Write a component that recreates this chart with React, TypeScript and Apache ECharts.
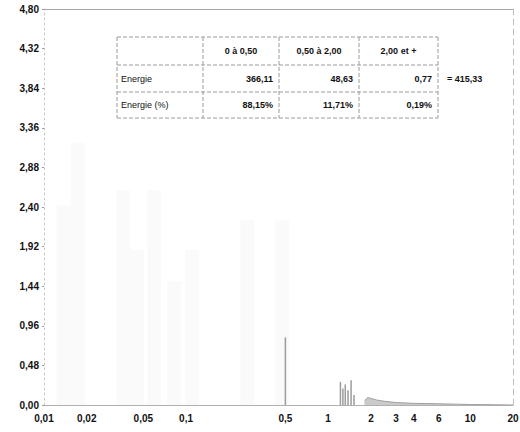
import React, { useEffect, useRef } from "react";
import * as echarts from "echarts";

// ---- data ----
const xTickValues = [0.01, 0.02, 0.05, 0.1, 0.5, 1, 2, 3, 4, 6, 10, 20];
const xTickLabels = ["0,01", "0,02", "0,05", "0,1", "0,5", "1", "2", "3", "4", "6", "10", "20"];

// faint ghost columns of the scanned histogram
const ghostX = [0.0124, 0.0156, 0.0327, 0.041, 0.054, 0.0746, 0.1, 0.244, 0.43];
const ghostY = [2.42, 3.18, 2.6, 1.88, 2.6, 1.5, 1.88, 2.24, 2.24];

// visible spikes
const spikeX = [0.5, 1.22, 1.27, 1.32, 1.38, 1.45, 1.52];
const spikeY = [0.82, 0.28, 0.2, 0.25, 0.18, 0.3, 0.12];

// low tail
const tailX = [1.8, 1.9, 2, 2.2, 2.5, 3, 4, 6, 8, 10, 15, 20];
const tailY = [0.05, 0.09, 0.08, 0.06, 0.045, 0.03, 0.02, 0.015, 0.01, 0.006, 0.003, 0];

// table
const tableHeaders = ["", "0 à 0,50", "0,50 à 2,00", "2,00 et +"];
const tableRowLabels = ["Energie", "Energie (%)"];
const energyValues = ["366,11", "48,63", "0,77"];
const energyPct = ["88,15%", "11,71%", "0,19%"];
const energyTotal = "= 415,33";

const FONT = "'Liberation Sans', Arial, sans-serif";

function buildTable() {
  const left = 117;
  const top = 37;
  const colW = [86, 76, 80, 79];
  const rowH = [28, 27, 26];
  const elems: any[] = [];
  const totalW = colW.reduce((a, b) => a + b, 0);
  const totalH = rowH.reduce((a, b) => a + b, 0);
  const lineStyle = { stroke: "#9a9a9a", lineWidth: 1, lineDash: [4, 2] };
  let y = top;
  for (let r = 0; r <= rowH.length; r++) {
    elems.push({ type: "line", shape: { x1: left, y1: y, x2: left + totalW, y2: y }, style: lineStyle, silent: true });
    if (r < rowH.length) y += rowH[r];
  }
  let x = left;
  for (let c = 0; c <= colW.length; c++) {
    elems.push({ type: "line", shape: { x1: x, y1: top, x2: x, y2: top + totalH }, style: lineStyle, silent: true });
    if (c < colW.length) x += colW[c];
  }
  const colLeft = (c: number) => left + colW.slice(0, c).reduce((a, b) => a + b, 0);
  for (let c = 1; c < tableHeaders.length; c++) {
    elems.push({
      type: "text",
      x: colLeft(c) + colW[c] / 2,
      y: top + rowH[0] / 2,
      style: { text: tableHeaders[c], fill: "#111", font: `bold 9px ${FONT}`, align: "center", verticalAlign: "middle" },
      silent: true,
    });
  }
  const rows = [energyValues, energyPct];
  let ry = top + rowH[0];
  rows.forEach((vals, ri) => {
    const cy = ry + rowH[ri + 1] / 2;
    elems.push({
      type: "text",
      x: left + 4,
      y: cy,
      style: { text: tableRowLabels[ri], fill: "#111", font: `9px ${FONT}`, align: "left", verticalAlign: "middle" },
      silent: true,
    });
    vals.forEach((v, ci) => {
      elems.push({
        type: "text",
        x: colLeft(ci + 2) - 6,
        y: cy,
        style: { text: v, fill: "#111", font: `bold 9px ${FONT}`, align: "right", verticalAlign: "middle" },
        silent: true,
      });
    });
    ry += rowH[ri + 1];
  });
  elems.push({
    type: "text",
    x: left + totalW + 9,
    y: top + rowH[0] + rowH[1] / 2,
    style: { text: energyTotal, fill: "#111", font: `bold 9px ${FONT}`, align: "left", verticalAlign: "middle" },
    silent: true,
  });
  return elems;
}

export default function App() {
  const ref = useRef<HTMLDivElement>(null);
  useEffect(() => {
    if (!ref.current) return;
    const chart = echarts.init(ref.current, null, { renderer: "svg" });
    const lg = (v: number) => Math.log10(v);
    const labelFor = (v: number) => {
      let best = 0;
      let bd = Infinity;
      xTickValues.forEach((t, i) => {
        const d = Math.abs(lg(t) - v);
        if (d < bd) {
          bd = d;
          best = i;
        }
      });
      return bd < 1e-6 ? xTickLabels[best] : "";
    };
    chart.setOption({
      animation: false,
      backgroundColor: "#ffffff",
      grid: { left: 44, right: 7, top: 9, bottom: 27, outerBoundsMode: "none", containLabel: false },
      xAxis: [
        {
          type: "value",
          min: lg(0.01),
          max: lg(20),
          axisLine: { show: true, onZero: false, lineStyle: { color: "#b0b0b0", width: 1 } },
          axisTick: { show: false },
          splitLine: { show: false },
          axisLabel: {
            customValues: xTickValues.map(lg),
            formatter: (v: number) => labelFor(v),
            color: "#111",
            fontFamily: FONT,
            fontWeight: "bold",
            fontSize: 10,
            margin: 8,
            showMinLabel: true,
            showMaxLabel: true,
          },
        },
        {
          type: "value",
          position: "top",
          min: lg(0.01),
          max: lg(20),
          axisLine: { show: true, onZero: false, lineStyle: { color: "#a8a8a8", width: 1 } },
          axisTick: { show: false },
          axisLabel: { show: false },
          splitLine: { show: false },
        },
      ],
      yAxis: [
        {
          type: "value",
          min: 0,
          max: 4.8,
          interval: 0.48,
          axisLine: { show: true, onZero: false, lineStyle: { color: "#c8c8c8", width: 1, type: [2, 3] } },
          axisTick: { show: true, length: 2, inside: false, lineStyle: { color: "#999" } },
          splitLine: { show: false },
          axisLabel: {
            formatter: (v: number) => v.toFixed(2).replace(".", ","),
            color: "#111",
            fontFamily: FONT,
            fontWeight: "bold",
            fontSize: 10,
            margin: 5,
          },
        },
        {
          type: "value",
          position: "right",
          min: 0,
          max: 4.8,
          interval: 0.48,
          axisLine: { show: true, onZero: false, lineStyle: { color: "#c0c0c0", width: 1, type: [6, 4] } },
          axisTick: { show: false },
          axisLabel: { show: false },
          splitLine: { show: false },
        },
      ],
      series: [
        {
          type: "bar",
          data: ghostX.map((x, i) => [lg(x), ghostY[i]]),
          barWidth: 14,
          itemStyle: { color: "#fafafa" },
          silent: true,
          z: 1,
        },
        {
          type: "bar",
          data: spikeX.map((x, i) => [lg(x), spikeY[i]]),
          barWidth: 1.5,
          barGap: "-100%",
          itemStyle: { color: "#9c9c9c" },
          silent: true,
          z: 3,
        },
        {
          type: "line",
          data: tailX.map((x, i) => [lg(x), tailY[i]]),
          showSymbol: false,
          lineStyle: { color: "#a0a0a0", width: 1 },
          areaStyle: { color: "#b4b4b4" },
          silent: true,
          z: 3,
        },
      ],
      graphic: buildTable(),
    });
    return () => chart.dispose();
  }, []);
  return <div ref={ref} style={{ position: "fixed", left: 0, top: 0, width: 520, height: 432 }} />;
}
